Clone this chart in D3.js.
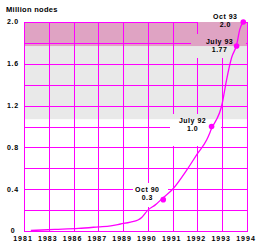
<!DOCTYPE html>
<html>
<head>
<meta charset="utf-8">
<script src="https://cdn.jsdelivr.net/npm/d3@7"></script>
<style>
  body { margin: 0; background: #fff; }
  svg { display: block; }
  text { font-family: "Liberation Sans", Arial, sans-serif; font-weight: bold; fill: #000; }
</style>
</head>
<body>
<script>
// x axis: uneven years, evenly spaced gridlines
var tickYears = [1981, 1983, 1985, 1987, 1989, 1990, 1991, 1992, 1993, 1994];
var tickLabels = ['1981', '1983', '1986', '1987', '1989', '1990', '1991', '1992', '1993', '1994'];
var yTicks = [0, 0.4, 0.8, 1.2, 1.6, 2.0];
var yGrid = [0, 0.2, 0.4, 0.6, 0.8, 1.0, 1.2, 1.4, 1.6, 1.8, 2.0];

// growth curve (year, million nodes)
var curveYears = [1981.55, 1983.5, 1985.4, 1987, 1988, 1988.8, 1989.3, 1989.6, 1989.75, 1990, 1990.3, 1990.62, 1991, 1991.56, 1992, 1992.37, 1992.57, 1993, 1993.17, 1993.38, 1993.58, 1993.71, 1993.85];
var curveValues = [0.005, 0.015, 0.025, 0.04, 0.05, 0.067, 0.085, 0.105, 0.13, 0.2, 0.25, 0.32, 0.4, 0.58, 0.74, 0.87, 0.98, 1.22, 1.44, 1.66, 1.78, 1.93, 2.0];

// labelled points
var noteNames = ['Oct 90', 'July 92', 'July 93', 'Oct 93'];
var noteYears = [1990.62, 1992.57, 1993.58, 1993.85];
var noteValues = ['0.3', '1.0', '1.77', '2.0'];

// shaded bands
var grayBand = [1.07, 1.77];
var pinkBand = [1.77, 2.0];

var width = 264, height = 248;
var mLeft = 24, mRight = 247, mTop = 22, mBottom = 231;
var magenta = '#ff00ff';

var svg = d3.select('body').append('svg').attr('width', width).attr('height', height);

var xPos = d3.scalePoint().domain(d3.range(tickYears.length)).range([mLeft, mRight]);
var x = d3.scaleLinear().domain(tickYears).range(tickYears.map(function (d, i) { return xPos(i); }));
var y = d3.scaleLinear().domain([0, 2]).range([mBottom, mTop]);

function px(v) { return Math.round(v) + 0.5; }

// bands
svg.append('rect').attr('x', mLeft).attr('width', mRight - mLeft)
   .attr('y', y(grayBand[1])).attr('height', y(grayBand[0]) - y(grayBand[1]))
   .attr('fill', '#e9e9e9');
svg.append('rect').attr('x', mLeft).attr('width', mRight - mLeft)
   .attr('y', y(pinkBand[1])).attr('height', y(pinkBand[0]) - y(pinkBand[1]))
   .attr('fill', '#dfa3c3');

// mask holes where the notes sit
var mask = svg.append('defs').append('mask').attr('id', 'gridMask')
   .attr('maskUnits', 'userSpaceOnUse').attr('x', 0).attr('y', 0)
   .attr('width', width).attr('height', height);
mask.append('rect').attr('width', width).attr('height', height).attr('fill', '#fff');
var holes = [[133, 183, 168, 207], [170, 114, 221, 146], [191, 34, 246, 58], [198, 0, 246, 40]];
mask.selectAll('rect.hole').data(holes).enter().append('rect')
   .attr('class', 'hole')
   .attr('x', function (d) { return d[0]; })
   .attr('y', function (d) { return d[1]; })
   .attr('width', function (d) { return d[2] - d[0]; })
   .attr('height', function (d) { return d[3] - d[1]; })
   .attr('fill', '#000');

var grid = svg.append('g').attr('mask', 'url(#gridMask)')
   .attr('stroke', magenta).attr('stroke-width', 1).attr('shape-rendering', 'crispEdges');

grid.selectAll('line.v').data(tickYears).enter().append('line')
   .attr('class', 'v')
   .attr('x1', function (d) { return px(x(d)); })
   .attr('x2', function (d) { return px(x(d)); })
   .attr('y1', mTop).attr('y2', mBottom + 1);

grid.selectAll('line.h').data(yGrid).enter().append('line')
   .attr('class', 'h')
   .attr('x1', mLeft).attr('x2', mRight + 1)
   .attr('y1', function (d) { return px(y(d)); })
   .attr('y2', function (d) { return px(y(d)); });

// curve
var line = d3.line()
   .x(function (d, i) { return x(curveYears[i]); })
   .y(function (d) { return y(d); })
   .curve(d3.curveMonotoneX);

svg.append('path').datum(curveValues)
   .attr('d', line)
   .attr('fill', 'none')
   .attr('stroke', magenta)
   .attr('stroke-width', 1.3);

svg.selectAll('circle.note').data(noteYears).enter().append('circle')
   .attr('class', 'note')
   .attr('cx', function (d) { return x(d); })
   .attr('cy', function (d, i) { return y(+noteValues[i]); })
   .attr('r', 2.8)
   .attr('fill', magenta);

// note labels
var noteDx = [-16, -19, -17, -18];
var noteDy = [-8, -4, -2, -3];
var notes = svg.selectAll('g.note').data(noteNames).enter().append('g')
   .attr('class', 'note')
   .attr('transform', function (d, i) {
     return 'translate(' + (x(noteYears[i]) + noteDx[i]) + ',' + (y(+noteValues[i]) + noteDy[i]) + ')';
   });
notes.append('text').attr('text-anchor', 'middle').attr('font-size', 7).attr('letter-spacing', 0.5)
   .text(function (d) { return d; });
notes.append('text').attr('text-anchor', 'middle').attr('font-size', 7).attr('letter-spacing', 0.5)
   .attr('y', 8)
   .text(function (d, i) { return noteValues[i]; });

// y axis labels
svg.selectAll('text.ylab').data(yTicks).enter().append('text')
   .attr('class', 'ylab')
   .attr('x', 13)
   .attr('y', function (d) { return y(d); })
   .attr('dy', '0.35em')
   .attr('text-anchor', 'middle')
   .attr('font-size', 7)
   .attr('letter-spacing', 0.8)
   .text(function (d) { return d === 0 ? '0' : d.toFixed(1); });

// x axis labels
svg.selectAll('text.xlab').data(tickLabels).enter().append('text')
   .attr('class', 'xlab')
   .attr('x', function (d, i) { return x(tickYears[i]) - 1; })
   .attr('y', 241)
   .attr('text-anchor', 'middle')
   .attr('font-size', 7)
   .attr('letter-spacing', 1)
   .text(function (d) { return d; });

svg.append('text').attr('x', 6).attr('y', 12)
   .attr('font-size', 7.5).attr('letter-spacing', 0.3)
   .text('Million nodes');
</script>
</body>
</html>
